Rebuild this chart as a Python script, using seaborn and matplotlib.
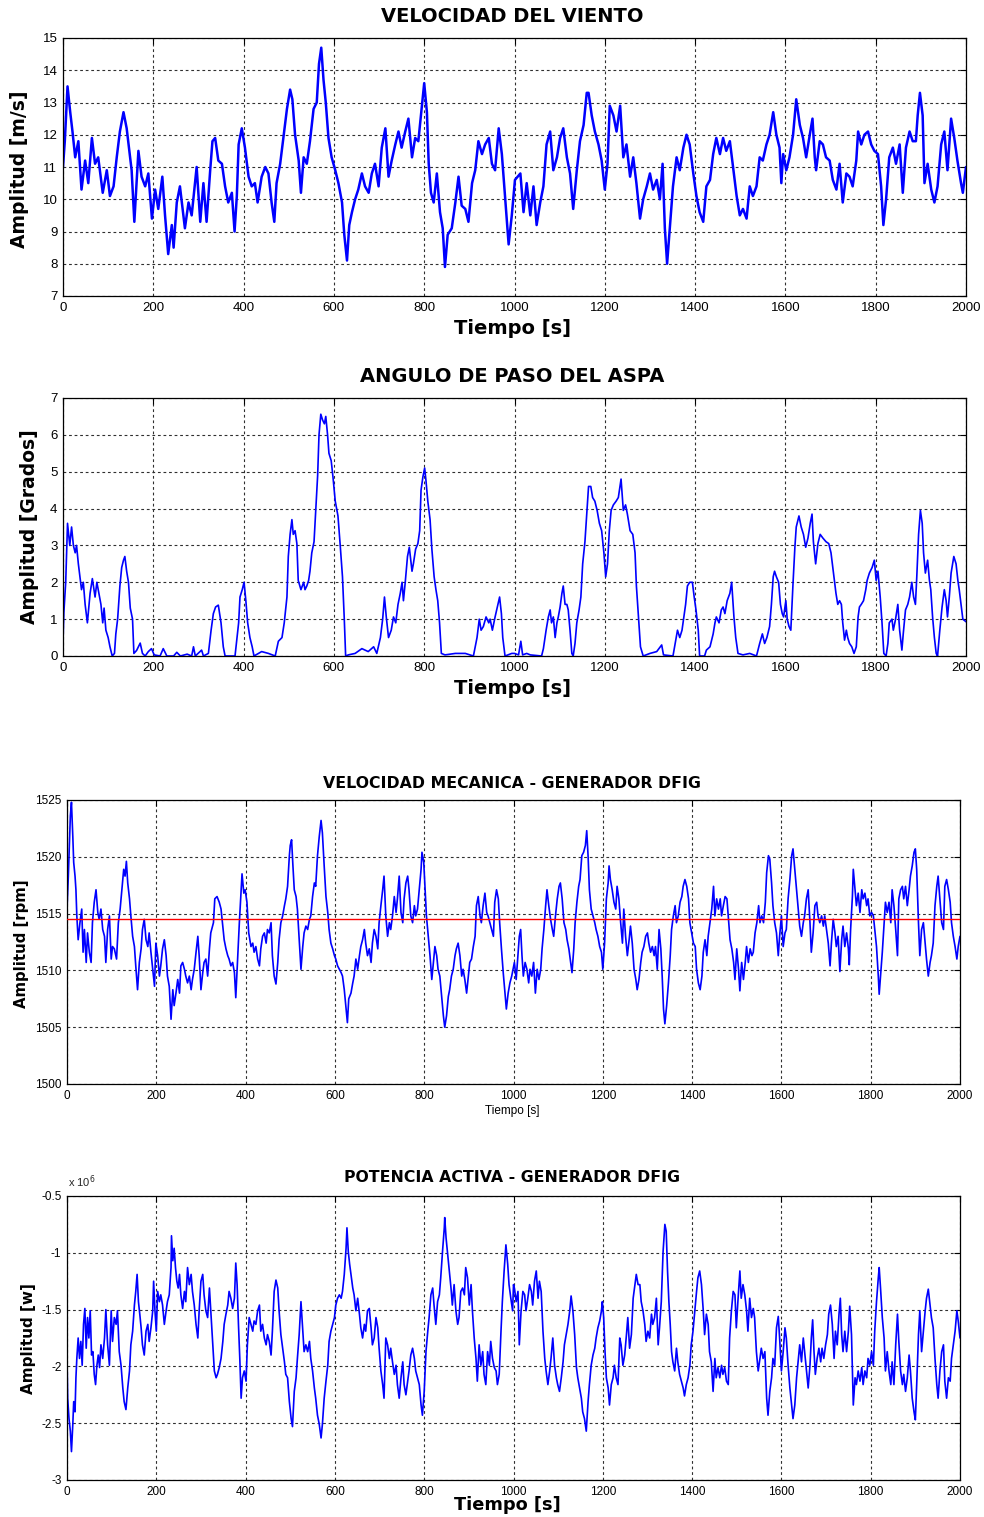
import matplotlib
matplotlib.use("Agg")
import matplotlib.pyplot as plt
from matplotlib.ticker import FuncFormatter
import seaborn as sns
import pandas as pd

# ---------------- data ----------------
time_ticks = [0, 200, 400, 600, 800, 1000, 1200, 1400, 1600, 1800, 2000]

wind_pts = [
(0,11.0),(4,11.8),(10,13.5),(16,12.7),(21,12.1),(27,11.3),(34,11.8),(41,10.3),(49,11.2),(56,10.5),
(64,11.9),(71,11.1),(78,11.3),(88,10.2),(97,10.9),(104,10.1),(112,10.4),(119,11.3),(126,12.1),(134,12.7),
(141,12.2),(152,10.9),(158,9.3),(167,11.5),(174,10.7),(182,10.4),(189,10.8),(197,9.4),(204,10.3),(211,9.7),
(220,10.7),(226,9.5),(233,8.3),(241,9.2),(245,8.5),(252,9.9),(259,10.4),(270,9.1),(278,9.9),(285,9.5),
(296,11.0),(304,9.3),(311,10.5),(318,9.3),(326,10.9),(331,11.8),(337,11.9),(344,11.2),(352,11.1),(359,10.4),
(366,9.9),(374,10.2),(380,9.0),(385,10.1),(389,11.7),(396,12.2),(403,11.6),(411,10.7),(418,10.4),(425,10.5),
(431,9.9),(440,10.7),(448,11.0),(455,10.8),(462,9.9),(468,9.3),(473,10.5),(481,11.1),(488,11.9),(496,12.8),
(503,13.4),(508,13.1),(514,12.0),(522,11.2),(527,10.2),(533,11.3),(540,11.1),(547,11.8),(555,12.8),(562,13.0),
(567,14.2),(572,14.7),(577,13.7),(582,13.0),(588,11.9),(595,11.3),(603,10.9),(610,10.5),(618,9.9),(623,8.9),
(629,8.1),(634,9.2),(640,9.6),(647,10.0),(654,10.3),(662,10.8),(669,10.4),(677,10.2),(684,10.8),(691,11.1),
(699,10.4),(706,11.6),(714,12.2),(721,10.7),(728,11.2),(736,11.7),(743,12.1),(750,11.6),(758,12.1),(765,12.5),
(773,11.3),(780,11.9),(787,11.8),(795,12.9),(800,13.6),(806,12.7),(810,11.1),(815,10.2),(821,9.9),(828,10.8),
(835,9.6),(841,9.1),(846,7.9),(852,8.9),(861,9.1),(869,9.9),(876,10.7),(883,9.8),(891,9.7),(898,9.3),
(906,10.5),(913,10.9),(920,11.8),(928,11.4),(935,11.7),(943,11.9),(950,11.1),(957,10.9),(965,12.2),(972,11.4),
(979,10.1),(987,8.6),(994,9.5),(1001,10.6),(1013,10.8),(1020,9.6),(1027,10.5),(1035,9.5),(1042,10.4),(1049,9.2),
(1057,9.9),(1064,10.4),(1071,11.7),(1079,12.1),(1086,10.9),(1094,11.3),(1101,11.9),(1108,12.2),(1116,11.3),(1123,10.8),
(1130,9.7),(1138,10.9),(1145,11.8),(1153,12.3),(1160,13.3),(1164,13.3),(1171,12.6),(1178,12.1),(1186,11.7),(1193,11.2),
(1200,10.3),(1206,11.1),(1211,12.9),(1219,12.6),(1226,12.1),(1234,12.9),(1241,11.3),(1248,11.7),(1256,10.7),(1263,11.3),
(1270,10.5),(1278,9.4),(1285,10.0),(1293,10.4),(1300,10.8),(1307,10.3),(1315,10.6),(1322,10.0),(1328,11.1),(1333,9.1),
(1338,8.0),(1344,9.1),(1351,10.4),(1359,11.3),(1366,10.9),(1374,11.6),(1381,12.0),(1388,11.7),(1396,10.8),(1403,10.1),
(1410,9.6),(1418,9.3),(1425,10.4),(1433,10.6),(1440,11.4),(1447,11.9),(1455,11.4),(1462,11.9),(1469,11.5),(1477,11.8),
(1484,11.0),(1492,10.1),(1499,9.5),(1506,9.7),(1514,9.4),(1521,10.4),(1528,10.1),(1536,10.4),(1543,11.3),(1550,11.2),
(1558,11.7),(1565,12.0),(1573,12.7),(1580,12.0),(1587,11.6),(1591,10.5),(1595,11.4),(1602,10.9),(1609,11.3),(1617,12.0),
(1624,13.1),(1632,12.3),(1639,11.9),(1646,11.3),(1654,12.0),(1660,12.5),(1665,11.3),(1668,10.9),(1676,11.8),(1683,11.7),
(1690,11.3),(1698,11.2),(1705,10.6),(1713,10.3),(1720,11.1),(1727,9.9),(1735,10.8),(1742,10.7),(1749,10.4),(1757,11.2),
(1761,12.1),(1768,11.7),(1775,12.0),(1783,12.1),(1790,11.7),(1797,11.5),(1805,11.4),(1812,10.4),(1817,9.2),(1823,10.0),
(1830,11.3),(1838,11.6),(1845,11.1),(1853,11.7),(1860,10.2),(1867,11.6),(1875,12.1),(1882,11.8),(1889,11.8),(1893,12.6),
(1898,13.3),(1904,12.6),(1908,10.5),(1915,11.1),(1923,10.3),(1930,9.9),(1937,10.4),(1945,11.7),(1952,12.1),(1959,10.9),
(1967,12.5),(1974,11.9),(1981,11.2),(1989,10.5),(1993,10.2),(2000,11.0)]

pitch_pts = [
(0,0.4),(2,1.2),(6,2.0),(10,3.6),(15,3.0),(19,3.5),(23,3.0),(27,2.8),(30,3.0),(34,2.5),
(38,2.1),(41,1.8),(45,2.0),(49,1.4),(54,0.9),(60,1.7),(65,2.1),(71,1.6),(75,2.0),(78,1.8),
(84,1.4),(88,0.9),(91,1.3),(95,0.7),(100,0.5),(104,0.25),(109,0.0),(114,0.07),(117,0.6),(121,1.0),
(126,1.9),(130,2.4),(134,2.6),(137,2.7),(141,2.3),(145,2.0),(149,1.3),(154,1.0),(157,0.07),(163,0.15),
(171,0.35),(176,0.07),(182,0.0),(189,0.12),(196,0.2),(202,0.03),(215,0.0),(222,0.2),(230,0.0),(245,0.0),
(252,0.1),(260,0.0),(275,0.05),(285,0.0),(289,0.25),(293,0.0),(307,0.16),(311,0.0),(322,0.07),(328,0.7),
(333,1.15),(338,1.33),(344,1.38),(350,0.9),(355,0.25),(359,0.0),(381,0.0),(389,0.9),(392,1.6),(397,1.8),
(401,2.0),(405,1.5),(409,0.9),(414,0.5),(419,0.25),(423,0.0),(433,0.07),(440,0.12),(455,0.07),(470,0.0),
(477,0.4),(485,0.5),(490,0.9),(496,1.6),(499,2.7),(503,3.3),(507,3.7),(510,3.3),(514,3.4),(518,3.05),
(521,2.05),(527,1.8),(533,2.0),(536,1.8),(540,1.9),(544,2.05),(547,2.3),(551,2.8),(556,3.1),(560,4.0),
(564,4.9),(567,6.0),(571,6.56),(575,6.4),(579,6.3),(582,6.5),(586,6.0),(589,5.5),(594,5.3),(598,4.85),
(603,4.2),(609,3.8),(614,3.0),(619,2.15),(623,1.0),(626,0.0),(632,0.03),(647,0.07),(662,0.2),(676,0.12),
(688,0.25),(695,0.07),(703,0.5),(708,1.0),(712,1.6),(716,1.06),(721,0.5),(727,0.7),(732,1.06),(737,0.9),
(742,1.4),(747,1.7),(751,2.0),(754,1.5),(758,2.0),(763,2.7),(767,2.95),(773,2.3),(776,2.5),(781,2.9),
(786,3.05),(790,3.4),(793,4.5),(797,4.85),(801,5.1),(804,4.75),(808,4.2),(813,3.7),(817,2.9),(822,2.15),
(826,1.8),(830,1.5),(834,0.9),(838,0.07),(846,0.03),(869,0.07),(891,0.07),(909,0.0),(917,0.5),(922,1.0),
(926,0.7),(931,0.8),(937,1.06),(943,0.9),(946,1.0),(951,0.7),(957,1.06),(962,1.33),(967,1.6),(971,1.15),
(974,0.5),(979,0.0),(994,0.07),(1000,0.07),(1009,0.03),(1014,0.4),(1018,0.03),(1027,0.07),(1035,0.03),(1060,0.0),
(1064,0.2),(1070,0.7),(1075,1.06),(1079,1.25),(1082,0.9),(1086,1.06),(1090,0.5),(1094,0.9),(1097,1.06),(1101,1.33),
(1105,1.7),(1108,1.9),(1112,1.4),(1116,1.4),(1119,1.25),(1123,0.7),(1127,0.07),(1130,0.0),(1134,0.34),(1138,0.9),
(1143,1.25),(1147,1.6),(1151,2.5),(1156,3.1),(1160,3.85),(1164,4.6),(1169,4.6),(1173,4.3),(1178,4.2),(1183,3.95),
(1188,3.6),(1193,3.4),(1198,2.8),(1202,2.15),(1206,2.5),(1210,3.4),(1214,3.95),(1219,4.1),(1225,4.2),(1230,4.3),
(1236,4.8),(1241,3.95),(1246,4.1),(1250,3.85),(1256,3.4),(1262,3.3),(1267,2.8),(1270,1.9),(1274,1.15),(1279,0.25),
(1285,0.0),(1300,0.07),(1315,0.12),(1326,0.3),(1330,0.03),(1351,0.0),(1357,0.43),(1361,0.7),(1366,0.5),(1371,0.7),
(1375,1.06),(1379,1.4),(1383,1.9),(1388,2.0),(1394,2.0),(1398,1.6),(1402,1.25),(1407,0.7),(1410,0.0),(1421,0.0),
(1425,0.16),(1433,0.25),(1440,0.6),(1444,0.9),(1447,1.06),(1453,0.9),(1458,1.25),(1462,1.33),(1466,1.15),(1471,1.5),
(1477,1.7),(1481,2.0),(1486,1.06),(1490,0.5),(1495,0.07),(1506,0.03),(1521,0.07),(1536,0.0),(1543,0.34),(1549,0.6),
(1554,0.34),(1559,0.5),(1565,0.8),(1569,1.4),(1573,2.15),(1576,2.3),(1580,2.15),(1585,2.0),(1589,1.4),(1593,1.15),
(1596,1.06),(1601,1.5),(1604,1.0),(1608,0.8),(1612,0.7),(1617,2.0),(1621,2.95),(1624,3.5),(1630,3.8),(1635,3.5),
(1640,3.3),(1645,2.95),(1650,3.2),(1655,3.6),(1659,3.85),(1662,3.1),(1667,2.5),(1672,3.05),(1677,3.3),(1683,3.2),
(1690,3.1),(1696,3.05),(1701,2.8),(1705,2.4),(1709,2.0),(1712,1.7),(1716,1.4),(1720,1.5),(1724,1.4),(1727,0.9),
(1731,0.43),(1735,0.7),(1738,0.5),(1742,0.34),(1747,0.25),(1752,0.07),(1757,0.25),(1761,1.06),(1764,1.33),(1768,1.4),
(1773,1.5),(1778,1.8),(1781,2.05),(1786,2.25),(1792,2.4),(1797,2.6),(1801,2.05),(1805,2.3),(1810,1.6),(1814,0.9),
(1818,0.07),(1823,0.0),(1827,0.34),(1830,0.9),(1836,1.0),(1839,0.7),(1844,1.0),(1849,1.4),(1853,0.7),(1858,0.16),
(1861,0.6),(1866,1.25),(1871,1.4),(1875,1.6),(1880,2.0),(1884,1.6),(1888,1.4),(1891,2.15),(1895,3.3),(1899,3.95),
(1903,3.6),(1906,2.8),(1910,2.25),(1915,2.6),(1919,2.05),(1922,1.8),(1926,1.06),(1930,0.5),(1934,0.07),(1937,0.0),
(1942,0.7),(1947,1.33),(1952,1.8),(1956,1.5),(1959,1.06),(1963,1.6),(1967,2.25),(1973,2.7),(1978,2.5),(1982,2.05),
(1985,1.8),(1989,1.4),(1993,1.0),(2000,0.93)]

rotor_pts = [
(0,1515.4),(3,1518.3),(5,1520.7),(7.5,1523.6),(10,1524.8),(13,1521.8),(15,1519.5),(18,1518.3),(20,1517.1),(22,1514.8),
(25,1512.7),(29,1514.2),(33,1515.4),(36,1511.6),(39,1513.6),(43,1510.7),(46,1513.3),(50,1511.6),(54,1510.7),(57,1514.2),
(61,1516.0),(65,1517.1),(69,1515.1),(72,1514.5),(76,1515.4),(80,1513.6),(84,1513.0),(87,1510.7),(91,1513.6),(95,1514.8),
(99,1511.0),(102,1512.1),(106,1511.9),(111,1511.0),(115,1514.2),(119,1515.4),(123,1517.1),(127,1518.9),(130,1518.3),(133,1519.6),
(136,1517.7),(140,1516.3),(143,1514.8),(147,1513.0),(151,1512.1),(154,1510.4),(158,1508.3),(162,1510.7),(166,1511.9),(169,1513.6),
(173,1514.5),(177,1512.7),(181,1512.1),(184,1513.3),(188,1511.6),(192,1510.1),(196,1508.6),(199,1512.4),(203,1511.3),(207,1509.5),
(210,1510.4),(214,1511.9),(218,1512.7),(222,1511.3),(225,1509.5),(229,1508.6),(233,1505.7),(237,1508.3),(240,1506.9),(244,1508.0),
(248,1509.2),(252,1508.0),(255,1510.4),(259,1510.7),(263,1510.1),(266,1509.5),(270,1508.9),(274,1509.5),(278,1508.3),(281,1509.2),
(285,1510.1),(289,1511.6),(293,1513.0),(296,1511.3),(300,1508.3),(304,1509.8),(307,1510.7),(311,1511.0),(315,1509.5),(319,1511.9),
(322,1513.3),(328,1514.2),(331,1516.3),(336,1516.5),(341,1516.0),(345,1515.4),(349,1513.9),(352,1512.7),(356,1511.9),(360,1511.3),
(363,1511.0),(367,1510.4),(371,1510.7),(375,1509.8),(378,1507.6),(382,1511.0),(386,1514.2),(390,1517.1),(392,1518.5),(396,1516.8),
(399,1517.1),(403,1516.0),(407,1513.3),(412,1512.1),(416,1512.4),(419,1511.6),(423,1512.1),(427,1511.0),(431,1510.4),(434,1511.9),
(438,1513.0),(442,1513.3),(446,1512.4),(449,1513.6),(453,1513.3),(457,1514.2),(460,1511.3),(464,1509.5),(468,1508.8),(472,1510.7),
(475,1512.7),(479,1514.2),(483,1514.8),(487,1515.7),(490,1516.3),(494,1517.4),(498,1520.1),(500,1521.0),(503,1521.5),(506,1519.2),
(509,1517.1),(513,1516.5),(516,1515.4),(520,1512.7),(524,1510.1),(528,1512.1),(531,1513.3),(535,1513.9),(539,1513.6),(543,1514.5),
(546,1514.8),(550,1516.5),(554,1517.7),(557,1517.4),(561,1520.1),(565,1521.8),(569,1523.2),(572,1522.1),(576,1519.2),(580,1516.5),
(584,1515.1),(587,1513.6),(591,1512.4),(595,1511.9),(599,1511.3),(602,1511.0),(606,1510.4),(610,1510.1),(614,1509.8),(617,1509.5),
(621,1508.3),(625,1506.6),(628,1505.4),(631,1507.5),(636,1508.0),(640,1508.9),(643,1509.5),(647,1511.0),(651,1510.1),(655,1511.3),
(658,1512.1),(662,1512.7),(666,1513.6),(669,1512.4),(673,1511.3),(677,1511.9),(681,1510.7),(684,1512.4),(688,1513.6),(692,1513.0),
(696,1511.9),(699,1514.2),(703,1515.7),(707,1517.1),(710,1518.3),(714,1514.8),(718,1513.0),(722,1514.2),(725,1513.6),(729,1514.8),
(733,1516.5),(737,1515.1),(740,1516.3),(744,1518.3),(748,1515.1),(752,1514.2),(755,1516.3),(759,1517.7),(763,1518.3),(766,1517.1),
(770,1514.8),(774,1514.2),(778,1515.7),(781,1514.8),(785,1515.4),(789,1517.1),(793,1518.9),(795,1520.4),(799,1519.5),(802,1517.1),
(805,1514.8),(809,1513.0),(813,1511.3),(817,1509.2),(820,1510.4),(824,1512.1),(828,1511.3),(831,1510.1),(835,1509.5),(839,1507.7),
(843,1506.0),(846,1505.0),(850,1506.0),(854,1507.7),(857,1508.3),(861,1509.5),(865,1510.1),(869,1511.3),(872,1511.9),(876,1512.4),
(880,1511.3),(884,1509.5),(887,1510.1),(891,1509.2),(895,1508.0),(899,1509.5),(902,1510.7),(906,1511.0),(910,1512.1),(914,1513.0),
(917,1515.7),(921,1516.5),(925,1514.8),(928,1514.2),(932,1515.7),(936,1516.8),(940,1515.1),(943,1514.8),(947,1514.2),(951,1513.6),
(955,1513.0),(958,1516.0),(962,1517.1),(966,1516.3),(969,1514.2),(973,1511.9),(977,1509.8),(981,1508.0),(984,1506.6),(988,1508.0),
(992,1508.9),(996,1509.5),
(1002,1510.7),(1006,1509.2),(1010,1511.3),(1013,1513.0),(1016,1513.6),(1019,1511.3),(1022,1509.5),(1026,1510.7),(1030,1510.1),(1034,1508.9),
(1037,1510.1),(1041,1509.5),(1045,1510.7),(1049,1508.0),(1053,1510.1),(1057,1509.2),(1061,1510.1),(1064,1511.9),(1068,1513.6),(1072,1515.7),
(1075,1517.1),(1079,1515.7),(1083,1514.5),(1087,1513.6),(1090,1513.0),(1094,1514.8),(1098,1516.3),(1102,1517.4),(1105,1517.7),(1109,1516.3),
(1113,1514.2),(1117,1513.6),(1120,1512.7),(1124,1511.9),(1128,1510.7),(1131,1509.8),(1135,1511.9),(1138,1514.2),(1142,1516.0),(1146,1517.4),
(1149,1518.0),(1153,1520.1),(1157,1520.4),(1161,1521.0),(1164,1522.3),(1167,1520.1),(1170,1517.1),(1174,1515.4),(1178,1514.8),(1182,1514.2),
(1185,1513.6),(1189,1513.0),(1193,1512.1),(1197,1511.6),(1200,1510.1),(1204,1512.4),(1208,1516.3),(1212,1517.7),(1214,1519.2),(1217,1518.0),
(1221,1517.1),(1225,1516.0),(1229,1515.4),(1232,1517.4),(1236,1516.3),(1240,1514.2),(1244,1512.4),(1247,1515.4),(1251,1513.0),(1255,1511.3),
(1259,1512.7),(1262,1513.9),(1266,1512.4),(1270,1510.1),(1274,1509.2),(1277,1508.3),(1281,1509.2),(1285,1510.7),(1288,1511.6),(1292,1512.1),
(1296,1513.0),(1300,1513.3),(1303,1512.4),(1307,1511.6),(1311,1512.1),(1315,1511.3),(1318,1512.1),(1322,1510.1),(1326,1513.6),(1330,1511.9),
(1333,1509.5),(1336,1506.6),(1339,1505.3),(1343,1506.9),(1347,1508.9),(1351,1511.3),(1354,1513.6),(1358,1514.8),(1362,1515.7),(1365,1514.2),
(1369,1514.8),(1373,1516.0),(1377,1516.5),(1380,1517.4),(1384,1518.0),(1388,1517.4),(1392,1516.3),(1395,1514.2),(1399,1513.3),(1403,1512.4),
(1407,1512.1),(1410,1510.1),(1414,1508.9),(1418,1508.3),(1422,1509.5),(1425,1511.6),(1429,1512.7),(1433,1511.3),(1436,1513.0),(1440,1514.2),
(1444,1515.4),(1448,1517.4),(1451,1514.8),(1455,1516.3),(1459,1515.4),(1463,1516.3),(1466,1514.8),(1470,1515.7),(1474,1516.5),(1478,1516.3),
(1481,1514.8),(1485,1512.7),(1489,1511.9),(1493,1510.7),(1496,1509.2),(1500,1511.9),(1504,1510.1),(1507,1508.2),(1511,1510.7),(1515,1509.2),
(1519,1510.7),(1522,1512.1),(1526,1510.7),(1530,1511.9),(1534,1511.3),(1537,1511.6),(1541,1513.3),(1545,1514.2),(1549,1515.7),(1552,1514.2),
(1556,1514.8),(1560,1514.2),(1564,1516.0),(1567,1518.6),(1571,1520.1),(1574,1519.8),(1578,1517.7),(1581,1515.7),(1585,1514.2),(1589,1513.3),
(1593,1511.3),(1596,1513.0),(1600,1514.8),(1604,1512.1),(1608,1513.3),(1611,1513.6),(1615,1516.3),(1619,1518.0),(1623,1520.1),(1626,1520.7),
(1630,1518.9),(1634,1517.1),(1638,1515.4),(1641,1513.9),(1645,1513.0),(1649,1514.2),(1652,1514.8),(1656,1516.3),(1660,1517.1),(1664,1514.2),
(1667,1511.6),(1671,1513.3),(1675,1515.7),(1679,1516.0),(1682,1514.8),(1686,1514.2),(1690,1514.8),(1694,1513.9),(1697,1514.8),(1701,1513.6),
(1705,1512.4),(1709,1510.4),(1712,1512.4),(1716,1514.5),(1720,1513.3),(1723,1512.1),(1727,1513.0),(1731,1509.9),(1735,1512.7),(1738,1513.9),
(1742,1512.1),(1746,1513.3),(1750,1511.9),(1752,1510.5),(1755,1513.6),(1759,1516.5),(1761,1518.9),(1765,1517.1),(1768,1515.7),(1772,1516.8),
(1776,1515.1),(1780,1517.1),(1783,1516.3),(1787,1516.8),(1791,1515.7),(1794,1516.3),(1798,1514.8),(1802,1515.1),(1806,1514.8),(1809,1513.6),
(1813,1512.1),(1817,1509.5),(1819,1507.9),(1822,1509.5),(1826,1511.6),(1830,1514.2),(1833,1516.0),(1837,1515.1),(1841,1516.0),(1845,1514.2),
(1848,1517.1),(1852,1515.7),(1856,1513.6),(1860,1511.3),(1863,1516.3),(1867,1517.1),(1871,1517.4),(1874,1516.3),(1878,1517.4),(1882,1515.7),
(1886,1517.1),(1889,1518.3),(1893,1519.2),(1897,1520.4),(1900,1520.7),(1903,1518.9),(1907,1514.2),(1910,1511.3),(1914,1513.6),(1918,1514.2),
(1922,1512.4),(1925,1511.0),(1929,1509.5),(1933,1510.7),(1936,1511.3),(1940,1512.4),(1944,1515.7),(1948,1517.4),(1951,1518.3),(1955,1516.3),
(1959,1514.2),(1963,1513.6),(1966,1517.4),(1970,1518.0),(1974,1517.1),(1978,1516.0),(1981,1514.2),(1985,1513.0),(1989,1512.1),(1993,1511.0),
(1996,1512.1),(2000,1513.0)]

rated_speed = 1514.55  # red reference line, rpm

power_pts = [
(0,-1.93),(1.5,-2.28),(4.5,-2.46),(7.5,-2.57),(10,-2.75),(13,-2.51),(15,-2.31),(18,-2.40),(20,-2.10),(22,-1.93),
(25,-1.75),(28,-1.93),(31,-1.78),(34,-1.99),(37,-1.63),(40,-1.49),(43,-1.84),(46,-1.57),(49,-1.75),(52,-1.51),
(55,-1.90),(58,-1.87),(61,-2.07),(64,-2.16),(67,-1.99),(70,-1.90),(73,-2.01),(76,-1.81),(80,-1.93),(84,-1.75),
(87,-1.50),(91,-1.81),(95,-1.99),(99,-1.51),(102,-1.78),(106,-1.57),(110,-1.63),(113,-1.51),(117,-1.87),(121,-1.99),
(125,-2.19),(128,-2.31),(132,-2.38),(136,-2.19),(140,-2.04),(143,-1.81),(147,-1.69),(151,-1.46),(154,-1.34),(157,-1.19),
(160,-1.43),(163,-1.54),(166,-1.66),(169,-1.81),(173,-1.90),(177,-1.69),(181,-1.63),(184,-1.78),(188,-1.66),(192,-1.51),
(194,-1.25),(197,-1.51),(200,-1.69),(203,-1.34),(207,-1.43),(210,-1.37),(214,-1.46),(218,-1.63),(222,-1.51),(225,-1.43),
(229,-1.37),(233,-1.13),(234,-0.85),(237,-1.07),(240,-0.96),(243,-1.13),(246,-1.25),(249,-1.31),(252,-1.19),(255,-1.37),
(259,-1.49),(263,-1.34),(266,-1.43),(270,-1.13),(274,-1.28),(278,-1.19),(281,-1.34),(285,-1.46),(289,-1.63),(293,-1.75),
(296,-1.51),(300,-1.25),(304,-1.19),(307,-1.37),(311,-1.51),(315,-1.57),(319,-1.31),(322,-1.51),(326,-1.78),(330,-2.04),
(334,-2.10),(337,-2.07),(341,-2.01),(345,-1.93),(349,-1.78),(352,-1.63),(356,-1.54),(360,-1.46),(363,-1.34),(367,-1.40),
(371,-1.49),(375,-1.40),(378,-1.09),(381,-1.28),(384,-1.63),(387,-1.93),(390,-2.28),(393,-2.10),(397,-2.04),(401,-2.13),
(404,-1.81),(408,-1.57),(412,-1.63),(416,-1.69),(419,-1.60),(423,-1.63),(427,-1.51),(431,-1.46),(434,-1.69),(438,-1.63),
(442,-1.75),(446,-1.81),(449,-1.72),(453,-1.78),(457,-1.90),(460,-1.69),(464,-1.34),(468,-1.24),(472,-1.31),(475,-1.51),
(479,-1.72),(483,-1.84),(487,-1.96),(490,-2.07),(494,-2.10),(498,-2.31),(502,-2.46),(505,-2.53),(509,-2.22),(513,-2.10),
(516,-1.93),(520,-1.72),(524,-1.43),(528,-1.69),(531,-1.87),(535,-1.81),(539,-1.87),(543,-1.78),(546,-1.93),(550,-2.04),
(554,-2.19),(557,-2.28),(561,-2.43),(565,-2.51),(569,-2.63),(572,-2.51),(576,-2.28),(580,-2.13),(584,-1.99),(587,-1.78),
(591,-1.69),(595,-1.63),(599,-1.57),(602,-1.46),(606,-1.40),(610,-1.37),(614,-1.40),(617,-1.34),(621,-1.19),(625,-0.96),
(627,-0.78),(630,-0.99),(633,-1.10),(636,-1.19),(640,-1.31),(643,-1.37),(647,-1.51),(651,-1.40),(655,-1.54),(658,-1.66),
(662,-1.75),(666,-1.63),(669,-1.69),(673,-1.51),(677,-1.49),(681,-1.66),(684,-1.81),(688,-1.75),(692,-1.57),(696,-1.66),
(699,-1.84),(703,-2.04),(707,-2.16),(710,-2.28),(714,-1.75),(718,-1.81),(722,-1.93),(725,-1.84),(729,-1.96),(733,-2.07),
(737,-1.99),(740,-2.16),(744,-2.28),(748,-2.10),(752,-1.96),(755,-2.16),(759,-2.25),(763,-2.13),(766,-2.04),(770,-1.90),
(774,-1.84),(778,-1.93),(781,-2.04),(785,-2.10),(789,-2.16),(793,-2.34),(796,-2.43),(800,-2.22),(804,-1.87),(808,-1.69),
(811,-1.57),(815,-1.37),(819,-1.31),(822,-1.46),(826,-1.63),(830,-1.43),(834,-1.37),(837,-1.22),(841,-0.99),(845,-0.78),
(846,-0.69),(849,-0.87),(852,-0.99),(856,-1.16),(860,-1.31),(863,-1.46),(867,-1.28),(871,-1.51),(875,-1.63),(878,-1.57),
(882,-1.34),(886,-1.31),(890,-1.37),(893,-1.13),(897,-1.22),(901,-1.46),(905,-1.28),(908,-1.51),(912,-1.75),(916,-1.93),
(919,-2.13),(923,-1.81),(927,-1.99),(931,-1.87),(934,-2.07),(938,-2.16),(942,-1.87),(946,-1.99),(949,-1.78),(953,-1.93),
(957,-2.01),(961,-2.04),(964,-2.16),(968,-2.07),(972,-1.69),(975,-1.43),(979,-1.16),(983,-0.93),(987,-1.10),(990,-1.28),
(994,-1.40),(998,-1.51),(1000,-1.28),
(1002,-1.31),(1006,-1.43),(1010,-1.34),(1013,-1.81),(1017,-1.51),(1021,-1.34),(1025,-1.37),(1028,-1.51),(1032,-1.40),(1036,-1.28),
(1040,-1.34),(1043,-1.46),(1047,-1.25),(1051,-1.16),(1055,-1.40),(1058,-1.25),(1062,-1.34),(1066,-1.69),(1070,-1.93),(1073,-2.04),
(1077,-2.16),(1081,-2.04),(1084,-1.93),(1088,-1.75),(1092,-1.99),(1096,-2.10),(1099,-2.16),(1103,-2.22),(1107,-2.10),(1111,-1.96),
(1114,-1.81),(1118,-1.72),(1122,-1.63),(1126,-1.51),(1129,-1.38),(1133,-1.51),(1137,-1.72),(1141,-2.01),(1144,-2.10),(1148,-2.19),
(1152,-2.28),(1155,-2.40),(1159,-2.46),(1163,-2.57),(1167,-2.31),(1170,-2.16),(1174,-1.99),(1178,-1.90),(1182,-1.84),(1185,-1.75),
(1189,-1.66),(1193,-1.60),(1197,-1.51),(1199,-1.43),(1202,-1.57),(1205,-1.87),(1208,-2.10),(1212,-2.19),(1215,-2.34),(1219,-2.16),
(1223,-2.10),(1226,-1.99),(1230,-2.10),(1234,-2.16),(1238,-1.75),(1241,-1.81),(1245,-1.99),(1249,-1.90),(1253,-1.72),(1256,-1.57),
(1260,-1.84),(1264,-1.72),(1268,-1.40),(1271,-1.31),(1275,-1.19),(1279,-1.28),(1283,-1.28),(1286,-1.43),(1290,-1.51),(1294,-1.63),
(1297,-1.78),(1301,-1.69),(1305,-1.75),(1309,-1.54),(1312,-1.63),(1316,-1.57),(1320,-1.40),(1324,-1.81),(1327,-1.66),(1331,-1.43),
(1335,-0.99),(1339,-0.75),(1342,-0.81),(1345,-1.16),(1348,-1.43),(1351,-1.63),(1354,-1.87),(1357,-1.96),(1361,-2.04),(1365,-1.84),
(1368,-1.96),(1372,-2.07),(1376,-2.13),(1380,-2.19),(1383,-2.26),(1387,-2.16),(1391,-2.10),(1395,-1.99),(1398,-1.81),(1402,-1.69),
(1406,-1.51),(1410,-1.34),(1413,-1.22),(1417,-1.16),(1421,-1.28),(1425,-1.51),(1428,-1.72),(1432,-1.54),(1436,-1.63),(1439,-1.87),
(1443,-1.96),(1447,-2.22),(1451,-1.93),(1454,-2.10),(1458,-2.01),(1462,-2.10),(1466,-1.99),(1469,-2.07),(1473,-2.01),(1477,-2.13),
(1481,-2.16),(1484,-1.75),(1488,-1.51),(1492,-1.34),(1496,-1.37),(1499,-1.66),(1503,-1.40),(1507,-1.16),(1510,-1.40),(1514,-1.28),
(1518,-1.37),(1522,-1.51),(1525,-1.69),(1529,-1.40),(1533,-1.57),(1537,-1.49),(1540,-1.57),(1544,-1.87),(1548,-2.04),(1552,-1.93),
(1555,-1.84),(1559,-1.93),(1563,-1.87),(1567,-2.28),(1570,-2.43),(1574,-2.22),(1578,-2.10),(1581,-1.93),(1585,-1.99),(1589,-1.66),
(1593,-1.56),(1596,-1.75),(1600,-2.04),(1604,-1.87),(1608,-1.66),(1611,-1.75),(1615,-1.99),(1619,-2.19),(1623,-2.34),(1626,-2.46),
(1630,-2.34),(1634,-2.10),(1638,-1.93),(1641,-1.81),(1645,-1.96),(1649,-1.75),(1652,-1.87),(1656,-2.04),(1660,-2.19),(1664,-1.99),
(1667,-1.75),(1670,-1.59),(1673,-1.87),(1676,-2.07),(1680,-1.93),(1684,-1.84),(1688,-1.96),(1691,-1.84),(1695,-1.93),(1699,-1.81),
(1703,-1.72),(1706,-1.54),(1710,-1.46),(1714,-1.63),(1718,-1.93),(1721,-1.69),(1725,-1.81),(1729,-1.54),(1732,-1.40),(1735,-1.72),
(1738,-1.87),(1742,-1.69),(1746,-1.87),(1750,-1.69),(1753,-1.47),(1757,-1.72),(1761,-2.34),(1765,-2.10),(1768,-2.16),(1772,-2.04),
(1776,-2.13),(1780,-2.01),(1783,-2.16),(1787,-2.04),(1791,-2.10),(1794,-1.93),(1798,-1.99),(1802,-1.87),(1806,-1.99),(1809,-1.69),
(1813,-1.43),(1817,-1.22),(1819,-1.13),(1822,-1.31),(1826,-1.57),(1830,-1.75),(1833,-2.04),(1837,-1.87),(1841,-2.04),(1845,-2.16),
(1848,-1.96),(1852,-2.16),(1856,-1.81),(1860,-1.54),(1863,-1.78),(1867,-2.04),(1871,-2.16),(1874,-2.07),(1878,-2.22),(1882,-2.10),
(1886,-1.90),(1889,-2.04),(1893,-2.28),(1897,-2.40),(1900,-2.47),(1903,-2.16),(1907,-1.72),(1910,-1.51),(1914,-1.87),(1918,-1.69),
(1922,-1.51),(1925,-1.40),(1929,-1.32),(1933,-1.46),(1936,-1.57),(1940,-1.66),(1944,-1.93),(1948,-2.16),(1951,-2.28),(1955,-2.04),
(1959,-1.87),(1963,-1.81),(1966,-2.13),(1970,-2.28),(1974,-2.10),(1978,-2.13),(1981,-1.93),(1985,-1.81),(1989,-1.69),(1993,-1.51),
(1996,-1.60),(2000,-1.75)]

wind_ticks = [7, 8, 9, 10, 11, 12, 13, 14, 15]
pitch_ticks = [0, 1, 2, 3, 4, 5, 6, 7]
rotor_ticks = [1500, 1505, 1510, 1515, 1520, 1525]
power_ticks = [-3, -2.5, -2, -1.5, -1, -0.5]

titles = ["VELOCIDAD DEL VIENTO", "ANGULO DE PASO DEL ASPA",
          "VELOCIDAD MECANICA - GENERADOR DFIG", "POTENCIA ACTIVA - GENERADOR DFIG"]
ylabels = ["Amplitud [m/s]", "Amplitud [Grados]", "Amplitud [rpm]", "Amplitud [w]"]
xlabel = "Tiempo [s]"

# ---------------- figure ----------------
sns.set_style("white")
plt.rcParams['font.family'] = ['Liberation Sans', 'DejaVu Sans']

W, H = 984, 1517
fig = plt.figure(figsize=(W / 100, H / 100), dpi=100)

def px_axes(l, t, r, b):
    return fig.add_axes([l / W, 1 - b / H, (r - l) / W, (b - t) / H])

ax1 = px_axes(63, 38, 966, 296)
ax2 = px_axes(63, 398, 966, 656)
ax3 = px_axes(67, 800, 960, 1084)
ax4 = px_axes(67, 1196, 960, 1480)

BLUE = '#0000FF'
series = [(ax1, wind_pts, wind_ticks, 1.8, 9.5),
          (ax2, pitch_pts, pitch_ticks, 1.2, 9.5),
          (ax3, rotor_pts, rotor_ticks, 1.2, 8.5),
          (ax4, power_pts, power_ticks, 1.2, 8.5)]

for ax, pts, yt, lw, fs in series:
    df = pd.DataFrame(pts, columns=['t', 'v'])
    sns.lineplot(data=df, x='t', y='v', ax=ax, color=BLUE, linewidth=lw,
                 estimator=None, sort=False)
    ax.set_xlim(0, 2000)
    ax.set_ylim(min(yt), max(yt))
    ax.set_xticks(time_ticks)
    ax.set_yticks(yt)
    ax.set_xlabel('')
    ax.set_ylabel('')
    ax.grid(True, color='#303030', linestyle=(0, (2.5, 2.5)), linewidth=0.8)
    ax.tick_params(direction='in', length=4, width=0.8, top=True, right=True,
                   labelsize=fs, pad=4, colors='black')
    for s in ax.spines.values():
        s.set_color('black')
        s.set_linewidth(0.9)
    ax.yaxis.set_major_formatter(FuncFormatter(lambda v, p: '%g' % v))

ax3.axhline(rated_speed, color='#FF0000', linewidth=1.0, zorder=3)

# titles, labels (positions in pixels of the reference)
def ftext(x, y, s, **kw):
    fig.text(x / W, 1 - y / H, s, ha='center', va='center', **kw)

bold = dict(family='DejaVu Sans', fontweight='bold', color='black')
ftext(512, 17, titles[0], fontsize=14, **bold)
ftext(512, 377, titles[1], fontsize=14, **bold)
ftext(512, 783, titles[2], fontsize=11.3, **bold)
ftext(512, 1178, titles[3], fontsize=11.3, **bold)

ftext(20, 169, ylabels[0], fontsize=13.5, rotation=90, **bold)
ftext(30, 527, ylabels[1], fontsize=13.5, rotation=90, **bold)
ftext(22, 944, ylabels[2], fontsize=10.7, rotation=90, **bold)
ftext(28, 1339, ylabels[3], fontsize=11, rotation=90, **bold)

ftext(513, 328, xlabel, fontsize=14, **bold)
ftext(513, 688, xlabel, fontsize=14, **bold)
ftext(512, 1111, xlabel, fontsize=8.5, family='Liberation Sans', color='black')
ftext(507, 1505, xlabel, fontsize=12.8, **bold)

fig.text(68 / W, 1 - 1190 / H, r'x 10$^6$', ha='left', va='bottom',
         fontsize=8, family='Liberation Sans')

fig.savefig('out.png', dpi=100, facecolor='white')
